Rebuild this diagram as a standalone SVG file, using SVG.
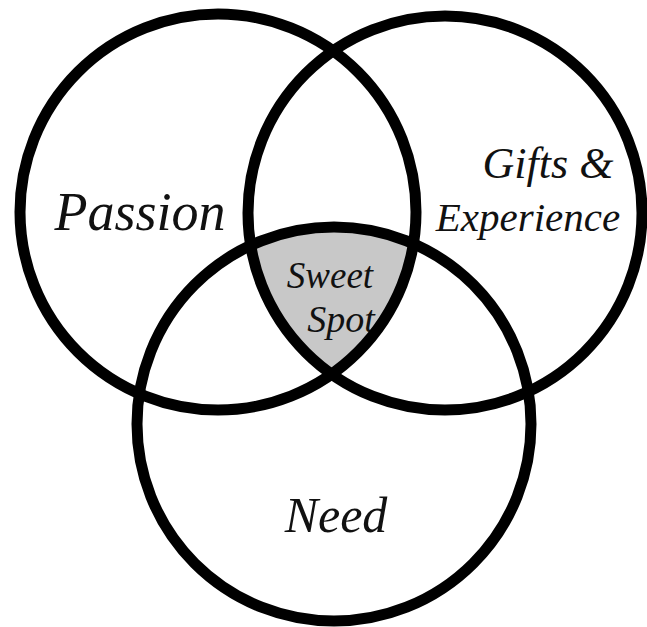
<svg xmlns="http://www.w3.org/2000/svg" width="647" height="627" viewBox="0 0 647 627">
  <style>
    .ring { fill: none; stroke: #000; stroke-width: 11; }
    .lbl { font-family: "Liberation Serif", "DejaVu Serif", serif; font-style: italic; fill: #111; }
  </style>
  <defs>
    <clipPath id="clipPassion"><circle cx="218" cy="212" r="198"/></clipPath>
    <clipPath id="clipGifts"><circle cx="445" cy="213" r="197"/></clipPath>
  </defs>
  <rect width="647" height="627" fill="#fff"/>
  <g id="sweet-spot">
    <g clip-path="url(#clipPassion)">
      <g clip-path="url(#clipGifts)">
        <circle cx="334" cy="424" r="197" fill="#c8c8c8"/>
      </g>
    </g>
    <text class="lbl" x="330" y="288" font-size="37" text-anchor="middle">Sweet</text>
    <text class="lbl" x="341" y="332" font-size="38" text-anchor="middle">Spot</text>
  </g>
  <g id="passion">
    <circle class="ring" cx="218" cy="212" r="198"/>
    <text class="lbl" x="140" y="230" font-size="54" text-anchor="middle">Passion</text>
  </g>
  <g id="gifts-experience">
    <circle class="ring" cx="445" cy="213" r="197"/>
    <text class="lbl" x="548" y="178" font-size="44" text-anchor="middle">Gifts &amp;</text>
    <text class="lbl" x="528" y="231" font-size="41" text-anchor="middle">Experience</text>
  </g>
  <g id="need">
    <circle class="ring" cx="334" cy="424" r="197"/>
    <text class="lbl" x="336" y="532" font-size="50" text-anchor="middle">Need</text>
  </g>
  <g id="connectors"/>
</svg>
